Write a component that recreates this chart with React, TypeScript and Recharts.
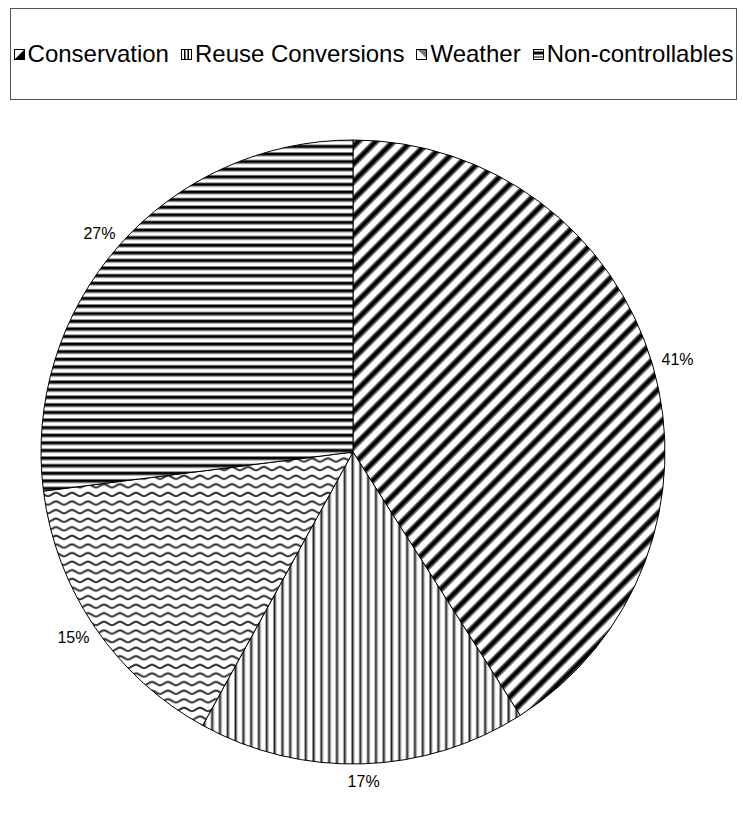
import { PieChart, Pie, Cell } from "recharts";

const categories = ["Conservation", "Reuse Conversions", "Weather", "Non-controllables"];
const shares = [41, 17, 15, 27];
const patternIds = ["pat-diag", "pat-vert", "pat-wave", "pat-horiz"];

const data = categories.map((name, i) => ({ name, value: shares[i] }));

const RADIAN = Math.PI / 180;
const font = "'Liberation Sans', Arial, sans-serif";

const Patterns = () => (
  <svg width={0} height={0} style={{ position: "absolute" }}>
    <defs>
      <pattern id="pat-diag" width={12.5} height={12.5} patternUnits="userSpaceOnUse" patternTransform="rotate(-45)">
        <rect width={12.5} height={12.5} fill="#fff" />
        <rect y={0} width={12.5} height={1.2} fill="#777" />
        <rect y={1.2} width={12.5} height={4.3} fill="#000" />
        <rect y={5.5} width={12.5} height={1.2} fill="#777" />
      </pattern>
      <pattern id="pat-vert" width={7.8} height={10} patternUnits="userSpaceOnUse">
        <rect width={7.8} height={10} fill="#fff" />
        <rect x={0} width={0.8} height={10} fill="#999" />
        <rect x={0.8} width={1.8} height={10} fill="#222" />
        <rect x={2.6} width={0.8} height={10} fill="#999" />
      </pattern>
      <pattern id="pat-horiz" width={10} height={7.6} patternUnits="userSpaceOnUse">
        <rect width={10} height={7.6} fill="#fff" />
        <rect y={0} width={10} height={0.8} fill="#888" />
        <rect y={0.8} width={10} height={2.8} fill="#000" />
        <rect y={3.6} width={10} height={0.8} fill="#888" />
      </pattern>
      <pattern id="pat-wave" width={16} height={8.6} patternUnits="userSpaceOnUse">
        <rect width={16} height={8.6} fill="#fff" />
        <path d="M0 6 C3 6 5 2.5 8 2.5 C11 2.5 13 6 16 6" fill="none" stroke="#333" strokeWidth={2} />
      </pattern>
    </defs>
  </svg>
);

const LegendIcon = ({ index }: { index: number }) => (
  <svg width={11} height={11} style={{ marginRight: 3, flexShrink: 0 }}>
    <rect x={0.5} y={0.5} width={10} height={10} fill="#fff" stroke="#000" />
    {index === 0 && <polygon points="10.5,0.5 10.5,10.5 0.5,10.5" fill="#000" />}
    {index === 1 && (
      <>
        <rect x={3} y={0.5} width={1.5} height={10} fill="#000" />
        <rect x={6.5} y={0.5} width={1.5} height={10} fill="#000" />
      </>
    )}
    {index === 2 && <polygon points="2,1 10,1 10,9" fill="#777" />}
    {index === 3 && (
      <>
        <rect x={0.5} y={2.5} width={10} height={3} fill="#000" />
        <rect x={0.5} y={7.5} width={10} height={1} fill="#000" />
      </>
    )}
  </svg>
);

const LegendBox = () => (
  <div
    style={{
      position: "absolute",
      top: 8,
      left: 10,
      boxSizing: "border-box",
      width: 727,
      height: 92,
      border: "1px solid #555",
      display: "flex",
      alignItems: "center",
      justifyContent: "center",
      fontFamily: font,
      fontSize: 24,
      color: "#000",
      whiteSpace: "nowrap",
      background: "#fff",
    }}
  >
    {categories.map((name, i) => (
      <div key={name} style={{ display: "flex", alignItems: "center", marginLeft: i === 0 ? 0 : 12 }}>
        <LegendIcon index={i} />
        <span>{name}</span>
      </div>
    ))}
  </div>
);

const renderLabel = (props: any) => {
  const { cx, cy, midAngle, outerRadius, value } = props;
  const cos = Math.cos(-midAngle * RADIAN);
  const sin = Math.sin(-midAngle * RADIAN);
  const x = cx + (outerRadius + 10) * cos + 16 * cos;
  const y = cy + (outerRadius + 10) * sin + 8 * sin;
  return (
    <text x={x} y={y} textAnchor="middle" dominantBaseline="central" fontFamily={font} fontSize={16} fill="#000">
      {value}%
    </text>
  );
};

export default function App() {
  return (
    <div style={{ position: "relative", width: 743, height: 825, background: "#fff" }}>
      <style>{`body{margin:0;background:#fff}`}</style>
      <Patterns />
      <PieChart width={743} height={825} margin={{ top: 0, right: 0, bottom: 0, left: 0 }}>
        <Pie
          data={data}
          dataKey="value"
          nameKey="name"
          cx={353}
          cy={452}
          outerRadius={312}
          startAngle={90}
          endAngle={-270}
          stroke="#000"
          strokeWidth={1}
          label={renderLabel}
          labelLine={false}
          isAnimationActive={false}
        >
          {data.map((d, i) => (
            <Cell key={d.name} fill={`url(#${patternIds[i]})`} />
          ))}
        </Pie>
      </PieChart>
      <LegendBox />
    </div>
  );
}
